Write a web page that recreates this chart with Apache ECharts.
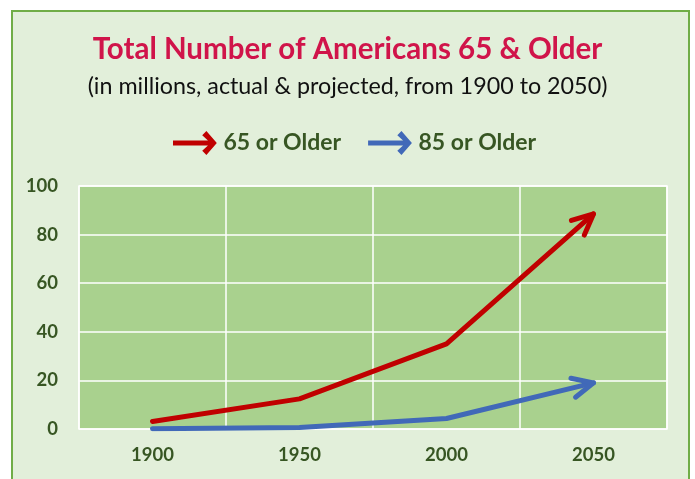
<!DOCTYPE html>
<html>
<head>
<meta charset="utf-8">
<script src="https://cdn.jsdelivr.net/npm/echarts@6/dist/echarts.min.js"></script>
<style>
html,body{margin:0;padding:0;background:#fff;width:695px;height:479px;overflow:hidden;}
#bg{position:absolute;left:11px;top:10px;width:679px;height:490px;border:2px solid #70AD47;background:#E2EFDA;box-sizing:border-box;}
#chart{position:absolute;left:0;top:0;width:695px;height:479px;}
</style>
</head>
<body>
<div id="bg"></div>
<div id="chart"></div>
<script>
const years = ['1900', '1950', '2000', '2050'];
const older65 = [3.1, 12.4, 35, 88.5];
const older85 = [0.1, 0.6, 4.3, 19];
const yTicks = [0, 20, 40, 60, 80, 100];
const seriesNames = ['65 or Older', '85 or Older'];
const colors = ['#C00000', '#4169B8'];

const arrowIcon = 'path://M28,4L32,0L42,11.5L32,23L28,19L33.5,14L0,14L0,9L33.5,9Z';
const labelColor = '#375623';
const font = 'Lato';

const chart = echarts.init(document.getElementById('chart'), null, {renderer: 'canvas'});
const option = {
  backgroundColor: 'transparent',
  animation: false,
  title: {
    text: 'Total Number of Americans 65 & Older',
    subtext: '(in millions, actual & projected, from 1900 to 2050)',
    left: 'center',
    top: 29,
    itemGap: 11,
    textStyle: {color: '#D0144A', fontFamily: font, fontWeight: 'bold', fontSize: 29.5},
    subtextStyle: {color: '#111', fontFamily: font, fontWeight: 'normal', fontSize: 23.3}
  },
  legend: {
    top: 126,
    left: 168,
    itemGap: 27,
    itemWidth: 45,
    itemHeight: 24,
    data: seriesNames.map(function (n) { return {name: n, icon: arrowIcon}; }),
    textStyle: {color: labelColor, fontFamily: font, fontWeight: 'bold', fontSize: 23, padding: [0, 0, 0, 1]}
  },
  grid: {
    left: 79, top: 186, right: 28, bottom: 50,
    show: true, backgroundColor: '#A9D18E', borderColor: '#ffffff', borderWidth: 1.5
  },
  xAxis: {
    type: 'category',
    data: years,
    boundaryGap: true,
    axisLine: {show: false},
    axisTick: {show: false},
    splitLine: {show: true, interval: 0, lineStyle: {color: '#ffffff', width: 1.5}},
    axisLabel: {color: labelColor, fontFamily: font, fontWeight: 'bold', fontSize: 18.5, margin: 17}
  },
  yAxis: {
    type: 'value',
    min: yTicks[0],
    max: yTicks[yTicks.length - 1],
    interval: yTicks[1] - yTicks[0],
    axisLine: {show: false},
    axisTick: {show: false},
    splitLine: {show: true, lineStyle: {color: '#ffffff', width: 1.5}},
    axisLabel: {color: labelColor, fontFamily: font, fontWeight: 'bold', fontSize: 18.5, margin: 21}
  },
  series: [
    {name: seriesNames[0], type: 'line', data: older65, symbol: 'none', color: colors[0],
     lineStyle: {width: 5, color: colors[0], cap: 'round', join: 'round'}, z: 3},
    {name: seriesNames[1], type: 'line', data: older85, symbol: 'none', color: colors[1],
     lineStyle: {width: 5, color: colors[1], cap: 'round', join: 'round'}, z: 2}
  ]
};
chart.setOption(option);

// arrowheads at the last point of each series, positioned through the chart's own scales
function arrowHead(data, color) {
  const n = data.length;
  const tip = chart.convertToPixel({gridIndex: 0}, [n - 1, data[n - 1]]);
  const prev = chart.convertToPixel({gridIndex: 0}, [n - 2, data[n - 2]]);
  const back = Math.atan2(prev[1] - tip[1], prev[0] - tip[0]);
  const len = 23, spread = 25 * Math.PI / 180;
  const a1 = [tip[0] + len * Math.cos(back + spread), tip[1] + len * Math.sin(back + spread)];
  const a2 = [tip[0] + len * Math.cos(back - spread), tip[1] + len * Math.sin(back - spread)];
  return {
    type: 'polyline', z: 100,
    shape: {points: [a1, tip, a2]},
    style: {stroke: color, lineWidth: 5, fill: null, lineCap: 'round', lineJoin: 'round'}
  };
}
chart.setOption({graphic: [arrowHead(older65, colors[0]), arrowHead(older85, colors[1])]});
</script>
</body>
</html>
